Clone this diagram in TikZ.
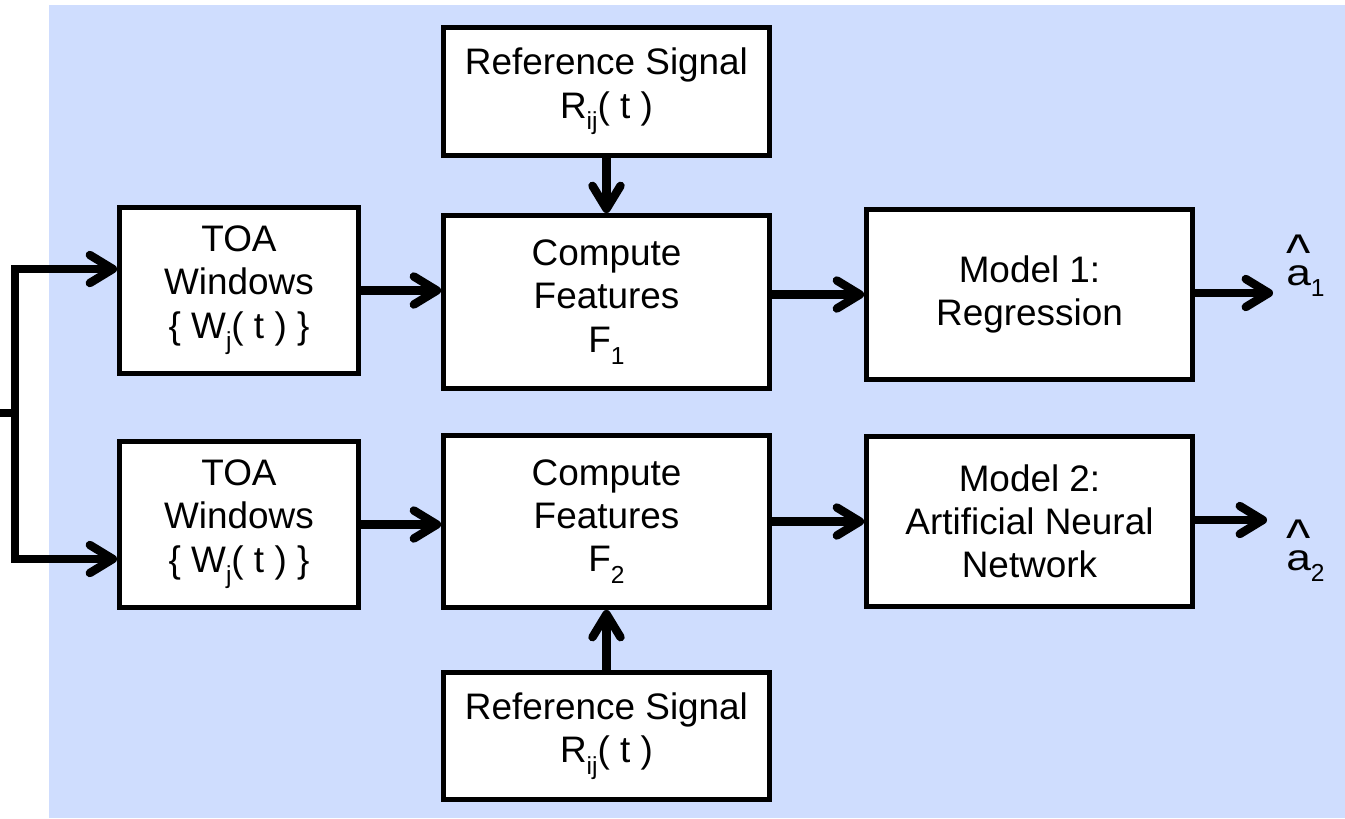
\documentclass[tikz,border=0pt]{standalone}
\usepackage{fontspec}
\setmainfont{Liberation Sans}
\usetikzlibrary{arrows.meta}
\definecolor{panelblue}{RGB}{207,221,254}
\newcommand{\lowsub}[1]{\raisebox{-0.32em}{\fontsize{14}{14}\selectfont #1}}
\newcommand{\estim}[1]{\ooalign{\scalebox{1.2}[1]{#1}\cr\hidewidth\raisebox{0.38em}{\scalebox{1.4}{\textasciicircum}}\hidewidth\cr}}

\begin{document}
\begin{tikzpicture}[
				x=0.02cm, y=-0.02cm,
				box/.style={draw, line width=2.8pt, fill=white, align=center, inner sep=0pt,
					font=\fontsize{21}{24.6}\selectfont},
				toa box/.style={box, minimum width=4.78cm, minimum height=3.32cm},
				mid box/.style={box, minimum width=6.52cm},
				flow/.style={->, draw, line width=4.8pt},
				estimate/.style={anchor=base west, inner sep=0pt, font=\fontsize{21}{24.6}\selectfont},
				>={Straight Barb[length=0.46cm, width=0.56cm, round]}]
				
				% Background panel
				\useasboundingbox (0,0) rectangle (1345,818);
				\fill[panelblue] (49,5) rectangle (1345,818);
				
				% Blocks
				\node[toa box] (toa1) at (239,290.5) {TOA\\Windows\\\{ W\lowsub{j}( t ) \}};
				\node[toa box] (toa2) at (239,524.5) {TOA\\Windows\\\{ W\lowsub{j}( t ) \}};
				\node[mid box, minimum height=2.56cm] (ref1) at (606.5,91.5) {Reference Signal\\R\lowsub{ij}( t )};
				\node[mid box, minimum height=3.46cm] (comp1) at (606.5,302) {Compute\\Features\\F\lowsub{1}};
				\node[mid box, minimum height=3.44cm] (comp2) at (606.5,521.5) {Compute\\Features\\F\lowsub{2}};
				\node[mid box, minimum height=2.54cm] (ref2) at (606.5,736) {Reference Signal\\R\lowsub{ij}( t )};
				\node[mid box, minimum height=3.4cm] (model1) at (1029.5,294.5) {Model 1:\\Regression};
				\node[mid box, minimum height=3.4cm] (model2) at (1029.5,521.5) {Model 2:\\Artificial Neural\\Network};
				
				% Outputs
				\node[estimate] (est1) at (1286,285) {\estim{a}\lowsub{1}};
				\node[estimate] (est2) at (1286,570) {\estim{a}\lowsub{2}};
				
				% Input fork
				\coordinate (in) at (0,413);
				\coordinate (fork) at (15,413);
				\draw[line width=4.8pt] (in) -- (fork);
				\draw[flow] (fork) |- ([yshift=0.43cm]toa1.west);
				\draw[flow] (fork) |- ([yshift=-0.69cm]toa2.west);
				
				% Signal flow
				\draw[flow] (toa1.east) -- (toa1.east -| comp1.west);
				\draw[flow] (toa2.east) -- (toa2.east -| comp2.west);
				\draw[flow] (ref1) -- (comp1);
				\draw[flow] (ref2) -- (comp2);
				\draw[flow] (comp1.east |- model1.west) -- (model1.west);
				\draw[flow] (comp2.east |- model2.west) -- (model2.west);
				\coordinate (out1) at (1273,293);
				\coordinate (out2) at (1267,520);
				\draw[flow] (model1.east |- out1) -- (out1);
				\draw[flow] (model2.east |- out2) -- (out2);
			\end{tikzpicture}
\end{document}
